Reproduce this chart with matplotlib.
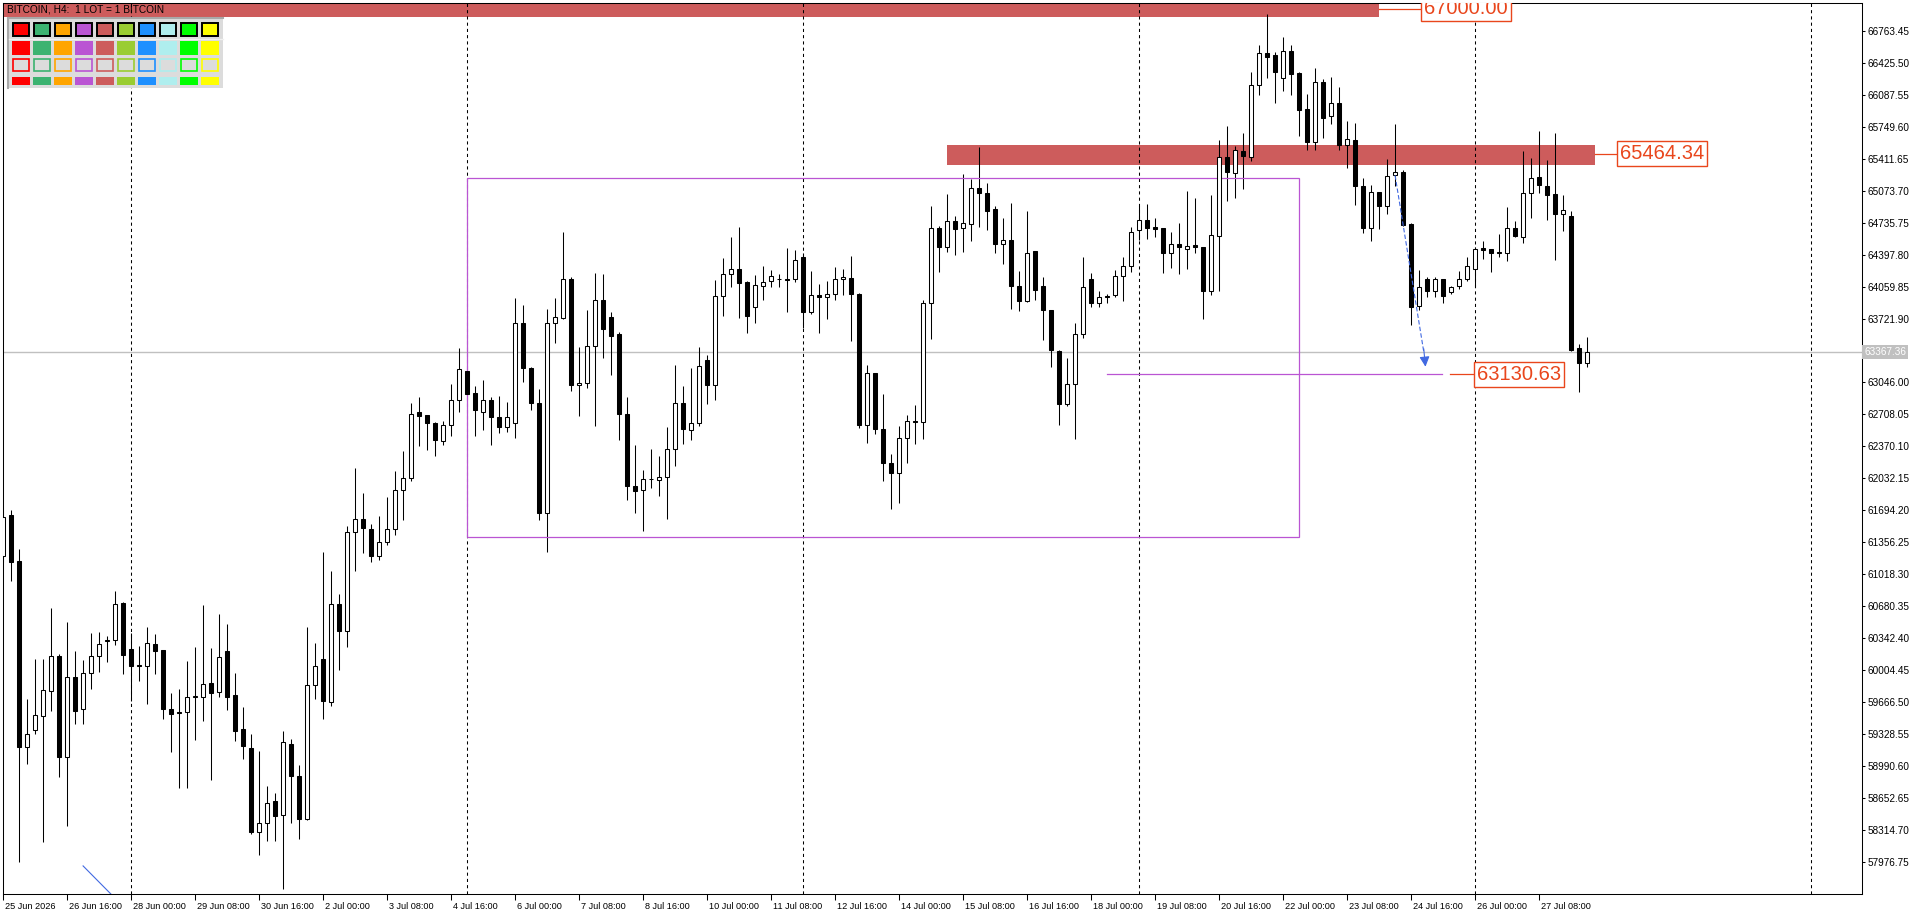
import matplotlib
matplotlib.use('Agg')
import numpy as np
import matplotlib.pyplot as plt
from matplotlib.patches import Rectangle
from matplotlib.transforms import ScaledTranslation

# ========================================================================
# DATA  (BITCOIN H4 bars, first bar = 25 Jun 2026 08:00)
# ========================================================================
opens = [
    61213, 61644, 61157, 59193, 59369, 59521, 59785, 60149, 59087, 59926,
    59588, 59969, 60149, 60314, 60318, 60709, 60223, 60055, 60050, 60276,
    60212, 59591, 59558, 59556, 59715, 59715, 59863, 59768, 60202, 59736,
    59376, 59176, 58294, 58382, 58615, 58473, 59226, 58878, 58433, 59849,
    60124, 59667, 60698, 60419, 61459, 61605, 61491, 61212, 61362, 61500,
    61912, 62038, 62730, 62697, 62620, 62430, 62600, 62855, 63171, 62932,
    62736, 62863, 62683, 62578, 62620, 63678, 63202, 62831, 61664, 63678,
    63731, 64143, 63022, 63043, 63427, 63921, 63741, 63554, 62715, 61953,
    61911, 62028, 62017, 62049, 62345, 62831, 62546, 62620, 63286, 63022,
    63963, 64196, 64249, 64104, 63847, 64069, 64115, 64138, 64143, 64143,
    64376, 63790, 63974, 63953, 63984, 64143, 64154, 63984, 62595, 63147,
    62556, 62197, 62084, 62455, 62641, 62631, 63889, 64683, 64478, 64750,
    64683, 64725, 65106, 65053, 64884, 64510, 64556, 64069, 63907, 64432,
    64062, 63815, 63381, 62817, 63032, 63561, 64136, 63882, 63960, 63967,
    64168, 64274, 64655, 64760, 64686, 64675, 64418, 64506, 64460, 64496,
    64475, 64016, 64598, 65427, 65257, 65490, 65434, 66188, 66527, 66506,
    66269, 66548, 66315, 65934, 65592, 66220, 65860, 65998, 65561, 65610,
    65120, 64676, 65057, 64908, 65236, 65272, 64718, 63858, 64140, 64009,
    64140, 63999, 64062, 64143, 64249, 64464, 64454, 64422, 64411, 64676,
    64580, 65046, 65215, 65120, 65035, 64823, 64803, 63410, 63255,
]
highs = [
    61690, 61696, 61280, 59694, 60120, 60120, 60663, 60170, 60508, 60205,
    60110, 60392, 60406, 60364, 60836, 60720, 60399, 60258, 60459, 60385,
    60215, 59761, 59803, 60099, 60247, 60692, 60237, 60596, 60491, 59972,
    59613, 59324, 59147, 58777, 58700, 59355, 59278, 58995, 60456, 60290,
    61249, 61050, 60808, 61532, 62139, 61876, 61544, 61637, 61831, 62106,
    62317, 62827, 62891, 62705, 62628, 62636, 63025, 63409, 63190, 63004,
    63068, 62888, 62898, 62835, 63935, 63861, 63205, 62980, 63826, 63935,
    64633, 64157, 63420, 63808, 64200, 64189, 63794, 63583, 62895, 62380,
    62123, 62345, 62271, 62578, 63226, 63011, 63202, 63417, 63332, 64125,
    64358, 64580, 64686, 64118, 64178, 64274, 64238, 64189, 64471, 64443,
    64415, 64221, 64083, 64115, 64263, 64242, 64379, 63990, 63233, 63150,
    62927, 62289, 62585, 62697, 62803, 63921, 64908, 64704, 65035, 64810,
    65247, 65194, 65540, 65152, 64915, 64781, 64947, 64221, 64855, 64440,
    64157, 63815, 63392, 63300, 63671, 64372, 64207, 64013, 63981, 64235,
    64372, 64693, 64908, 64933, 64781, 64680, 64633, 64732, 65070, 64996,
    64480, 65025, 65610, 65758, 65547, 65684, 66329, 66611, 66943, 66537,
    66700, 66615, 66333, 66097, 66368, 66252, 66276, 66167, 65811, 65786,
    65208, 65131, 65060, 65405, 65779, 65293, 64736, 64235, 64165, 64161,
    64145, 64066, 64221, 64376, 64482, 64538, 64460, 64616, 64898, 64753,
    65490, 65416, 65705, 65398, 65684, 65025, 64856, 63449, 63526,
]
lows = [
    61150, 60949, 57977, 59010, 59327, 58188, 59574, 58869, 58357, 59436,
    59436, 59807, 59986, 60089, 60268, 59965, 59676, 59891, 59648, 59965,
    59486, 59140, 58759, 58759, 59264, 59468, 58844, 59722, 59581, 59257,
    59066, 58266, 58051, 58199, 58198, 57692, 58388, 58218, 58420, 59699,
    59489, 59626, 60006, 60245, 61054, 61245, 61147, 61172, 61326, 61427,
    61588, 62005, 62373, 62333, 62264, 62386, 62479, 62734, 62900, 62479,
    62542, 62384, 62511, 62521, 62458, 63047, 62750, 61587, 61252, 63463,
    63720, 62955, 62690, 62987, 62585, 63304, 63124, 62440, 61805, 61664,
    61474, 61932, 61844, 61604, 62161, 62398, 62440, 62585, 62821, 62856,
    63748, 64055, 63727, 63568, 63674, 63917, 64058, 64055, 63794, 64108,
    63618, 63769, 63568, 63716, 63917, 63970, 63484, 62560, 62405, 62501,
    62007, 61711, 61767, 62197, 62391, 62447, 63505, 64214, 64425, 64393,
    64425, 64542, 64690, 64654, 64415, 64298, 63822, 63801, 63896, 63917,
    63494, 63209, 62595, 62796, 62447, 63519, 63840, 63847, 63882, 63946,
    63910, 64217, 64552, 64566, 64584, 64207, 64260, 64193, 64249, 64418,
    63713, 63970, 64016, 64968, 64996, 65092, 65391, 66086, 66266, 66005,
    66132, 66086, 65652, 65508, 65508, 65635, 65783, 65508, 65310, 64923,
    64630, 64545, 64665, 64831, 65127, 64700, 63657, 63812, 63946, 63946,
    63889, 63985, 64034, 64119, 64059, 64355, 64217, 64376, 64334, 64587,
    64524, 64789, 65053, 64767, 64344, 64644, 63375, 62948, 63212,
]
closes = [
    61619, 61150, 59193, 59324, 59525, 59789, 60149, 59087, 59926, 59574,
    59969, 60149, 60276, 60322, 60706, 60166, 60050, 60050, 60286, 60209,
    59591, 59542, 59554, 59715, 59729, 59852, 59764, 60138, 59722, 59362,
    59204, 58294, 58382, 58594, 58465, 59238, 58886, 58433, 59849, 60043,
    59679, 60698, 60419, 61459, 61605, 61508, 61212, 61354, 61500, 61904,
    62038, 62709, 62693, 62620, 62438, 62600, 62855, 63183, 62924, 62756,
    62863, 62680, 62578, 62680, 63678, 63198, 62831, 61664, 63674, 63741,
    64143, 63022, 63043, 63427, 63921, 63614, 63537, 62715, 61950, 61901,
    62027, 62022, 62049, 62345, 62831, 62556, 62620, 63223, 63022, 63963,
    64192, 64249, 64101, 63748, 64080, 64111, 64175, 64142, 64129, 64344,
    63794, 63974, 63953, 63984, 64143, 64164, 63981, 62595, 63147, 62553,
    62190, 62091, 62455, 62634, 62627, 63889, 64683, 64478, 64757, 64669,
    64735, 65106, 65049, 64859, 64510, 64556, 64066, 63907, 64418, 64023,
    63812, 63388, 62817, 63032, 63561, 64059, 63882, 63946, 63946, 64168,
    64274, 64633, 64760, 64683, 64672, 64418, 64506, 64482, 64492, 64482,
    64016, 64601, 65427, 65275, 65501, 65441, 66188, 66527, 66492, 66333,
    66548, 66312, 65931, 65592, 66220, 65846, 65998, 65561, 65617, 65127,
    64676, 65057, 64908, 65226, 65272, 64714, 63847, 64059, 64009, 64140,
    63963, 64059, 64143, 64274, 64454, 64450, 64418, 64411, 64676, 64598,
    65046, 65205, 65131, 65032, 64823, 64866, 63392, 63255, 63367,
]

# time axis labels, one every 8 bars (32 hours)
xtick_bars = list(range(0, 193, 8))
xtick_labels = [
    '25 Jun 2026', '26 Jun 16:00', '28 Jun 00:00', '29 Jun 08:00', '30 Jun 16:00',
    '2 Jul 00:00', '3 Jul 08:00', '4 Jul 16:00', '6 Jul 00:00', '7 Jul 08:00',
    '8 Jul 16:00', '10 Jul 00:00', '11 Jul 08:00', '12 Jul 16:00', '14 Jul 00:00',
    '15 Jul 08:00', '16 Jul 16:00', '18 Jul 00:00', '19 Jul 08:00', '20 Jul 16:00',
    '22 Jul 00:00', '23 Jul 08:00', '24 Jul 16:00', '26 Jul 00:00', '27 Jul 08:00',
]
week_lines = [16, 58, 100, 142, 184, 226]   # Sunday 00:00 separators

ytick_vals = [
    57976.75, 58314.70, 58652.65, 58990.60, 59328.55, 59666.50, 60004.45,
    60342.40, 60680.35, 61018.30, 61356.25, 61694.20, 62032.15, 62370.10,
    62708.05, 63046.00, 63721.90, 64059.85, 64397.80, 64735.75, 65073.70,
    65411.65, 65749.60, 66087.55, 66425.50, 66763.45,
]
current_price = 63367.36

# horizontal levels with their labels
levels = [67000.00, 65464.34, 63130.63]
level_line_start = [172.0, 199.0, 180.9]    # leader line start (bars)
level_box_left = [177.2, 201.7, 183.8]      # label box left edge (bars)

# drawn objects
zones = [(-2, 172.0, 66910, 67120), (118.0, 199.0, 65350, 65560)]
box_x = (58, 162)
box_y = (61411, 65211)
target_line_x = (138, 179.9)
arrow_from = (174, 65236)
arrow_to = (177.8, 63212)
old_line = [(10, 57932), (14, 57590)]

palette = ['#FF0000', '#3CB371', '#FFA500', '#BA55D3', '#CD5C5C',
           '#9ACD32', '#1E90FF', '#AFEEEE', '#00FF00', '#FFFF00']

title = 'BITCOIN, H4:  1 LOT = 1 BITCOIN'

# ========================================================================
# FIGURE SETUP
# ========================================================================
plt.rcParams['font.family'] = ['Liberation Sans', 'DejaVu Sans']
W, H = 1920, 915
fig = plt.figure(figsize=(W / 100, H / 100), dpi=100)
fig.patch.set_facecolor('white')
ax = fig.add_axes([3 / W, 21 / H, 1859 / W, 891 / H])
ax.set_facecolor('white')
ax.set_xlim(-0.01, -0.01 + 1859 / 8)
ax.set_ylim(57635, 67059)

zone_red = '#CD5C5C'
orchid = '#BA55D3'
label_red = '#E9461C'
blue = '#4169E1'

# zones behind everything
for x0, x1, y0, y1 in zones:
    ax.add_patch(Rectangle((x0, y0), x1 - x0, y1 - y0, facecolor=zone_red,
                           edgecolor='none', zorder=1))

# weekly separators
for g in week_lines:
    ax.axvline(g, color='black', lw=0.75, ls=(0, (3, 3)), zorder=2)

# current price line
ax.axhline(current_price, color='#C0C0C0', lw=1.0, zorder=2.5)

# ========================================================================
# CANDLES
# ========================================================================
idx = np.arange(len(opens))
o = np.array(opens, dtype=float)
h = np.array(highs, dtype=float)
l = np.array(lows, dtype=float)
c = np.array(closes, dtype=float)
up = c >= o

ax.vlines(idx, l, h, color='black', lw=0.75, zorder=3)
ax.bar(idx, np.abs(c - o), bottom=np.minimum(o, c), width=0.5,
       color=np.where(up, 'white', 'black'), edgecolor='black',
       linewidth=0.75, zorder=4)

# ========================================================================
# OBJECTS
# ========================================================================
ax.add_patch(Rectangle((box_x[0], box_y[0]), box_x[1] - box_x[0],
                       box_y[1] - box_y[0], fill=False, edgecolor=orchid,
                       lw=0.9, zorder=3.5))
ax.plot(target_line_x, [levels[2], levels[2]], color=orchid, lw=0.9, zorder=3.5)

# dashed arrow
ax.plot([arrow_from[0], arrow_to[0] - 0.2], [arrow_from[1], arrow_to[1] + 150],
        color=blue, lw=0.8, ls=(0, (4, 2)), zorder=5)
ax.annotate('', xy=arrow_to, xytext=(arrow_to[0] - 0.22, arrow_to[1] + 190),
            arrowprops=dict(arrowstyle='-|>,head_length=0.6,head_width=0.3',
                            color=blue, lw=0.8, shrinkA=0, shrinkB=0), zorder=5)

ax.plot([p[0] for p in old_line], [p[1] for p in old_line], color=blue, lw=0.8,
        zorder=5)

# level leader lines + labels
for lv, xs, xb in zip(levels, level_line_start, level_box_left):
    ax.plot([xs, xb], [lv, lv], color=label_red, lw=0.9, zorder=5)
    ax.text(xb + 0.45, lv, f'{lv:.2f}', ha='left', va='center', fontsize=14.5,
            color=label_red, zorder=6, clip_on=True,
            bbox=dict(boxstyle='square,pad=0.14', fc='white', ec=label_red, lw=1.0))

# ========================================================================
# AXES / TICKS
# ========================================================================
for sp in ax.spines.values():
    sp.set_color('black')
    sp.set_linewidth(0.75)

ax.yaxis.tick_right()
ax.set_yticks(ytick_vals)
ax.set_yticklabels([f'{v:.2f}' for v in ytick_vals])
ax.tick_params(axis='y', direction='out', length=2.5, width=0.75,
               labelsize=7.2, pad=1.5, colors='black')

ax.set_xticks(xtick_bars)
ax.set_xticklabels(xtick_labels)
ax.tick_params(axis='x', direction='out', length=4, width=0.75,
               labelsize=6.6, pad=1.5, colors='black')
shift = ScaledTranslation(1.5 / 100, 0, fig.dpi_scale_trans)
for lab in ax.get_xticklabels():
    lab.set_horizontalalignment('left')
    lab.set_transform(lab.get_transform() + shift)

# current price tag on the price scale
ax.text(1.0 + 2 / 1859, current_price, f'{current_price:.2f}',
        transform=ax.get_yaxis_transform(), ha='left', va='center',
        fontsize=7.2, color='white', clip_on=False, zorder=7,
        bbox=dict(boxstyle='square,pad=0.2', fc='#C0C0C0', ec='none'))

# ========================================================================
# OVERLAY: title and colour palette panel (pixel units)
# ========================================================================
ov = fig.add_axes([0, 0, 1, 1])
ov.set_xlim(0, W)
ov.set_ylim(H, 0)
ov.axis('off')
ov.set_zorder(10)
ov.patch.set_alpha(0)

ov.text(7, 10, title, fontsize=7.3, ha='left', va='center', color='black')

ov.add_patch(Rectangle((7.5, 17.5), 215, 70, facecolor='#DCDCDC', edgecolor='none'))
ov.plot([7.5, 222.5], [18, 18], color='#A9A9A9', lw=1.5)
ov.plot([8, 8], [17.5, 87.5], color='#A9A9A9', lw=1.5)
ov.plot([9, 222.5], [39, 39], color='#F0F0F0', lw=1.0)

for i, col in enumerate(palette):
    x0 = 12.5 + 21 * i
    ov.add_patch(Rectangle((x0, 22.5), 16.5, 13.5, facecolor=col,
                           edgecolor='black', lw=1.4))
    ov.add_patch(Rectangle((x0 - 0.5, 40.5), 17.5, 14.5, facecolor=col,
                           edgecolor='none'))
    ov.add_patch(Rectangle((x0 + 0.2, 58.8), 16.3, 12.5, facecolor='#DCDCDC',
                           edgecolor=col, lw=1.2))
    ov.add_patch(Rectangle((x0 - 0.5, 76.7), 17.5, 8.3, facecolor=col,
                           edgecolor='none'))

fig.savefig('out.png', dpi=100, facecolor='white')
